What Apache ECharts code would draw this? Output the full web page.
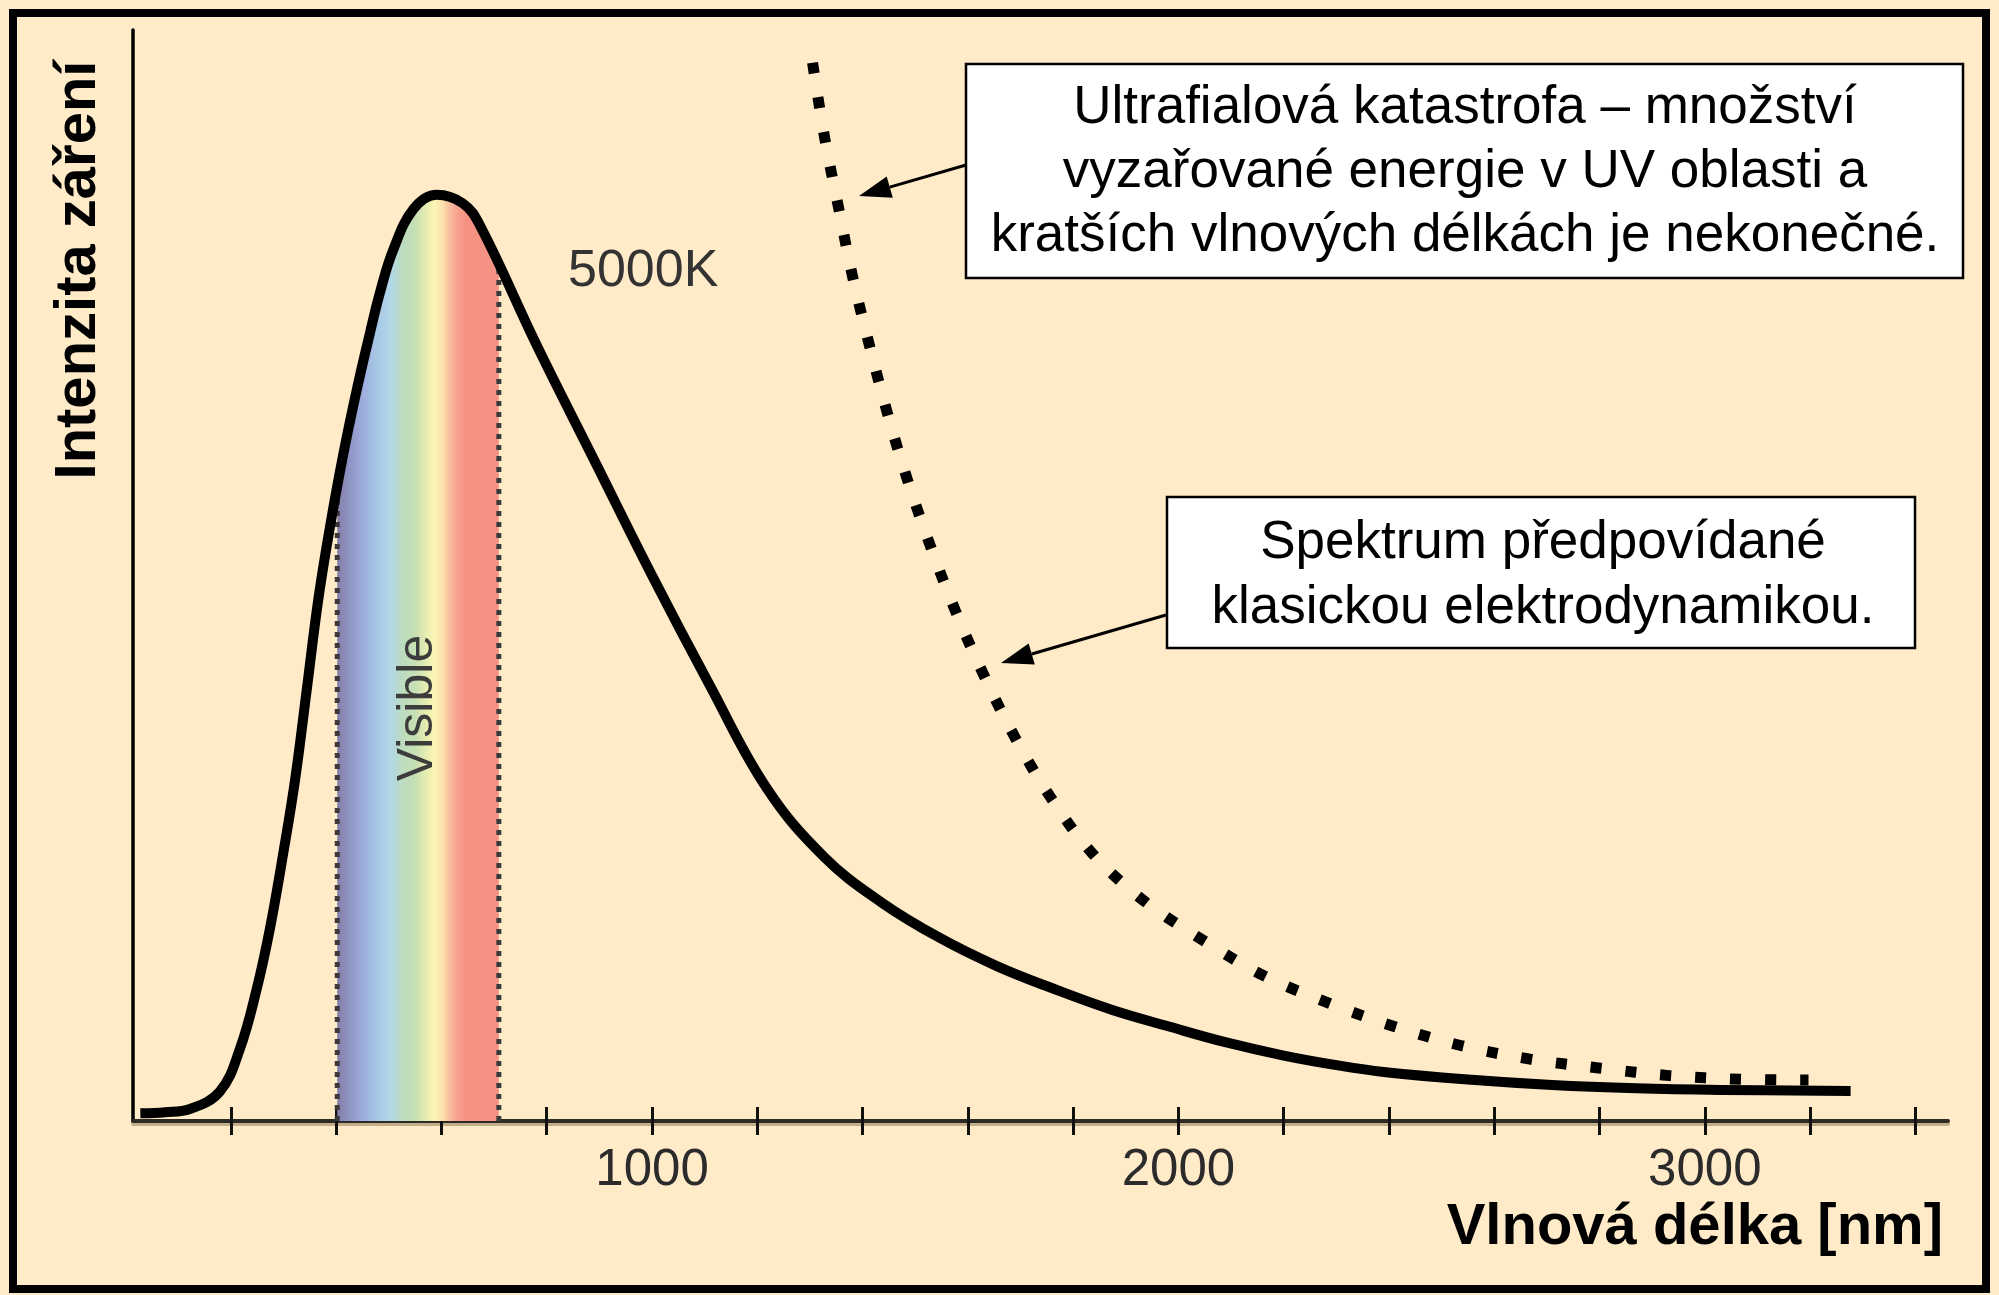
<!DOCTYPE html>
<html>
<head>
<meta charset="utf-8">
<script src="https://cdn.jsdelivr.net/npm/echarts@6/dist/echarts.min.js"></script>
<style>
  html, body { margin: 0; padding: 0; background: #FFEBC7; }
  #chart { width: 1999px; height: 1295px; }
</style>
</head>
<body>
<div id="chart"></div>
<script>
// vlnová délka [nm] a intenzita (libovolné jednotky)
const planckNm = [28, 75, 122, 179, 217, 249, 274, 300, 322, 344, 366, 388, 413, 439, 464, 483, 508, 547, 591, 641, 673, 782, 891, 1000, 1109, 1218, 1327, 1437, 1546, 1655, 1764, 1873, 1982, 2091, 2200, 2309, 2390, 2550, 2710, 2870, 3030, 3277]
const planckVal = [0.7, 0.8, 1.1, 2.7, 6.6, 12.1, 17.6, 24.7, 31.3, 39.5, 47.8, 54.4, 61.0, 67.0, 72.2, 75.9, 79.8, 83.6, 84.9, 84.1, 82.1, 71.0, 60.5, 50.0, 40.0, 30.5, 24.2, 20.0, 16.8, 14.2, 12.1, 10.2, 8.66, 7.2, 6.0, 5.05, 4.5, 3.8, 3.3, 3.0, 2.85, 2.75]

// klasická předpověď (Rayleigh-Jeans)
const classicNm = [1305, 1328, 1354, 1381, 1413, 1447, 1485, 1528, 1576, 1629, 1689, 1758, 1837, 1934, 2049, 2163, 2291, 2410, 2538, 2668, 2802, 2933, 3067, 3197]
const classicVal = [97.0, 90.1, 83.8, 77.4, 71.1, 64.9, 58.8, 52.8, 46.8, 41.0, 35.2, 29.6, 24.5, 20.2, 16.5, 13.3, 10.7, 8.66, 6.9, 5.67, 4.84, 4.16, 3.83, 3.76]

// viditelná oblast
const visibleNm = [402, 709]
const visibleTop = [57.9, 78.4]

const tickValues = [200, 400, 600, 800, 1000, 1200, 1400, 1600, 1800, 2000, 2200, 2400, 2600, 2800, 3000, 3200, 3400]
const labelValues = [1000, 2000, 3000]

const FONT = '"Liberation Sans", Arial, Helvetica, sans-serif'

const planckData = planckNm.map((x, i) => [x, planckVal[i]])
const classicData = classicNm.map((x, i) => [x, classicVal[i]])
const bandData = [[visibleNm[0], visibleTop[0]]]
  .concat(planckData.filter(d => d[0] > visibleNm[0] && d[0] < visibleNm[1]))
  .concat([[visibleNm[1], visibleTop[1]]])

const spectrum = new echarts.graphic.LinearGradient(0, 0, 1, 0, [
  { offset: 0.00, color: '#867ea9' },
  { offset: 0.08, color: '#9096c6' },
  { offset: 0.15, color: '#9caadb' },
  { offset: 0.24, color: '#a7c6e5' },
  { offset: 0.33, color: '#b1d7e8' },
  { offset: 0.40, color: '#bcdcc0' },
  { offset: 0.48, color: '#c6dfb4' },
  { offset: 0.55, color: '#e6ecb0' },
  { offset: 0.60, color: '#fbf6b4' },
  { offset: 0.65, color: '#fde2b0' },
  { offset: 0.69, color: '#f9c3a0' },
  { offset: 0.74, color: '#f7a290' },
  { offset: 0.80, color: '#f5917f' },
  { offset: 1.00, color: '#f39286' }
])

function arrow(x1, y1, x2, y2) {
  const a = Math.atan2(y2 - y1, x2 - x1)
  const L = 32, W = 11
  const bx = x2 - L * Math.cos(a), by = y2 - L * Math.sin(a)
  const px = -Math.sin(a) * W, py = Math.cos(a) * W
  return [
    { type: 'line', z: 20, shape: { x1: x1, y1: y1, x2: bx, y2: by }, style: { stroke: '#000', lineWidth: 3 } },
    { type: 'polygon', z: 20, shape: { points: [[x2, y2], [bx + px, by + py], [bx - px, by - py]] }, style: { fill: '#000' } }
  ]
}

function edgeSeries(i) {
  return {
    type: 'line',
    data: [[visibleNm[i], 0], [visibleNm[i], visibleTop[i]]],
    symbol: 'none',
    silent: true,
    z: 3,
    lineStyle: { color: '#3a3a3a', width: 5, type: [5, 6] }
  }
}

const chart = echarts.init(document.getElementById('chart'))

const option = {
  backgroundColor: '#FFEBC7',
  animation: false,
  grid: { left: 133, right: 51, top: 30, bottom: 174 },
  xAxis: [
    {
      type: 'value',
      min: 14,
      max: 3462,
      position: 'bottom',
      axisLine: {
        show: true,
        lineStyle: { color: '#2e2a26', width: 4, shadowColor: 'rgba(120,100,60,0.45)', shadowOffsetY: 3 }
      },
      axisTick: {
        show: true,
        customValues: tickValues,
        length: 14,
        lineStyle: { color: '#111', width: 3 }
      },
      axisLabel: {
        customValues: labelValues,
        formatter: v => String(v),
        margin: 24,
        fontFamily: FONT,
        fontSize: 51,
        color: '#2b2b2b'
      },
      splitLine: { show: false }
    },
    {
      type: 'value',
      min: 14,
      max: 3462,
      position: 'bottom',
      axisLine: { show: false },
      axisTick: {
        show: true,
        inside: true,
        customValues: tickValues,
        length: 14,
        lineStyle: { color: '#111', width: 3 }
      },
      axisLabel: { show: false },
      splitLine: { show: false }
    }
  ],
  yAxis: {
    type: 'value',
    min: 0,
    max: 100,
    axisLine: { show: true, lineStyle: { color: '#000', width: 3.5 } },
    axisTick: { show: false },
    axisLabel: { show: false },
    splitLine: { show: false }
  },
  series: [
    {
      type: 'line',
      data: bandData,
      smooth: 0.4,
      symbol: 'none',
      silent: true,
      z: 1,
      lineStyle: { width: 0 },
      areaStyle: { color: spectrum, opacity: 1 }
    },
    edgeSeries(0),
    edgeSeries(1),
    {
      name: '5000K',
      type: 'line',
      data: planckData,
      smooth: 0.4,
      symbol: 'none',
      z: 5,
      lineStyle: { color: '#000', width: 10, cap: 'butt', join: 'round' }
    },
    {
      name: 'Klasická předpověď',
      type: 'line',
      data: classicData,
      smooth: 0.35,
      symbol: 'none',
      z: 6,
      lineStyle: { color: '#000', width: 11, type: [11, 24], cap: 'butt' }
    }
  ],
  graphic: [
    {
      type: 'rect', z: 30, silent: true,
      shape: { x: 13, y: 13, width: 1973, height: 1276 },
      style: { fill: 'none', stroke: '#000', lineWidth: 8 }
    },
    {
      type: 'text', z: 10, x: 79, y: 270, rotation: Math.PI / 2,
      style: { text: 'Intenzita záření', font: 'bold 58px ' + FONT, fill: '#000', align: 'center', verticalAlign: 'middle' }
    },
    {
      type: 'text', z: 10, x: 1943, y: 1228,
      style: { text: 'Vlnová délka [nm]', font: 'bold 58px ' + FONT, fill: '#000', align: 'right', verticalAlign: 'middle' }
    },
    {
      type: 'text', z: 10, x: 568, y: 272,
      style: { text: '5000K', font: '52px ' + FONT, fill: '#333', align: 'left', verticalAlign: 'middle' }
    },
    {
      type: 'text', z: 10, x: 418, y: 708, rotation: Math.PI / 2,
      style: { text: 'Visible', font: '50px ' + FONT, fill: '#3c3c3c', align: 'center', verticalAlign: 'middle' }
    },
    {
      type: 'rect', z: 20,
      shape: { x: 966, y: 64, width: 997, height: 214 },
      style: { fill: '#fff', stroke: '#000', lineWidth: 2.5 }
    },
    {
      type: 'text', z: 21, x: 1465, y: 172,
      style: {
        text: 'Ultrafialová katastrofa – množství\nvyzařované energie v UV oblasti a\nkratších vlnových délkách je nekonečné.',
        font: '53px ' + FONT, lineHeight: 64, fill: '#000', align: 'center', verticalAlign: 'middle'
      }
    },
    {
      type: 'rect', z: 20,
      shape: { x: 1167, y: 497, width: 748, height: 151 },
      style: { fill: '#fff', stroke: '#000', lineWidth: 2.5 }
    },
    {
      type: 'text', z: 21, x: 1543, y: 576,
      style: {
        text: 'Spektrum předpovídané\nklasickou elektrodynamikou.',
        font: '53px ' + FONT, lineHeight: 65, fill: '#000', align: 'center', verticalAlign: 'middle'
      }
    }
  ].concat(arrow(966, 165, 859, 196), arrow(1166, 615, 1001, 663))
}

chart.setOption(option)

window.addEventListener('resize', () => chart.resize())
</script>
</body>
</html>
